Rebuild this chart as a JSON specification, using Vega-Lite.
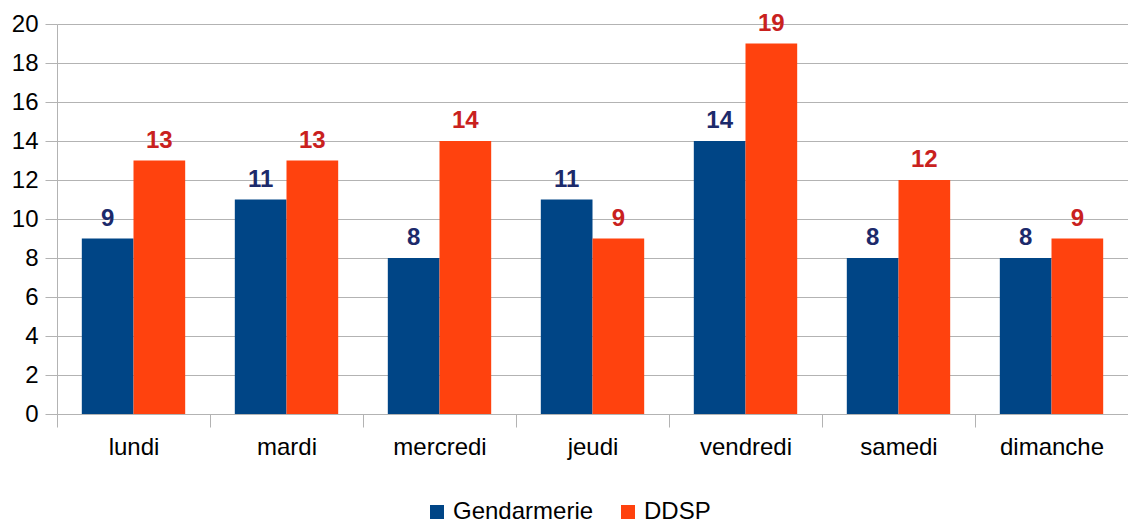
{
  "$schema": "https://vega.github.io/schema/vega-lite/v6.json",
  "width": 1071,
  "height": 390,
  "autosize": "none",
  "padding": {"left": 57, "top": 24, "right": 0, "bottom": 114},
  "background": "white",
  "config": {
    "font": "Liberation Sans",
    "view": {"stroke": null}
  },
  "data": {
    "values": [
      {"jour": "lundi", "series": "Gendarmerie", "value": 9},
      {"jour": "lundi", "series": "DDSP", "value": 13},
      {"jour": "mardi", "series": "Gendarmerie", "value": 11},
      {"jour": "mardi", "series": "DDSP", "value": 13},
      {"jour": "mercredi", "series": "Gendarmerie", "value": 8},
      {"jour": "mercredi", "series": "DDSP", "value": 14},
      {"jour": "jeudi", "series": "Gendarmerie", "value": 11},
      {"jour": "jeudi", "series": "DDSP", "value": 9},
      {"jour": "vendredi", "series": "Gendarmerie", "value": 14},
      {"jour": "vendredi", "series": "DDSP", "value": 19},
      {"jour": "samedi", "series": "Gendarmerie", "value": 8},
      {"jour": "samedi", "series": "DDSP", "value": 12},
      {"jour": "dimanche", "series": "Gendarmerie", "value": 8},
      {"jour": "dimanche", "series": "DDSP", "value": 9}
    ]
  },
  "encoding": {
    "x": {
      "field": "jour",
      "type": "nominal",
      "sort": ["lundi", "mardi", "mercredi", "jeudi", "vendredi", "samedi", "dimanche"],
      "scale": {"paddingInner": 0, "paddingOuter": 0},
      "axis": {
        "title": null,
        "labelAngle": 0,
        "labelFontSize": 24,
        "labelColor": "#000000",
        "labelFont": "Liberation Sans",
        "tickBand": "extent",
        "tickSize": 13,
        "tickColor": "#b3b3b3",
        "domainColor": "#b3b3b3",
        "labelPadding": 8,
        "labelBaseline": "top"
      }
    },
    "xOffset": {
      "field": "series",
      "type": "nominal",
      "sort": ["Gendarmerie", "DDSP"],
      "scale": {"paddingInner": 0, "paddingOuter": 0.48}
    },
    "y": {
      "field": "value",
      "type": "quantitative",
      "scale": {"domain": [0, 20], "nice": false},
      "axis": {
        "title": null,
        "values": [0, 2, 4, 6, 8, 10, 12, 14, 16, 18, 20],
        "labelFontSize": 24,
        "labelColor": "#000000",
        "labelFont": "Liberation Sans",
        "grid": true,
        "gridColor": "#b3b3b3",
        "tickColor": "#b3b3b3",
        "tickSize": 12,
        "domainColor": "#b3b3b3",
        "labelPadding": 7
      }
    }
  },
  "layer": [
    {
      "mark": {"type": "bar"},
      "encoding": {
        "color": {
          "field": "series",
          "type": "nominal",
          "sort": ["Gendarmerie", "DDSP"],
          "scale": {"domain": ["Gendarmerie", "DDSP"], "range": ["#004586", "#ff420e"]},
          "legend": {
            "title": null,
            "orient": "none",
            "direction": "horizontal",
            "legendX": 368,
            "legendY": 476,
            "padding": 0,
            "symbolType": "square",
            "symbolSize": 196,
            "symbolStrokeWidth": 0,
            "labelFontSize": 24,
            "labelColor": "#000000",
            "labelFont": "Liberation Sans",
            "labelOffset": 4,
            "columnPadding": 22
          }
        }
      }
    },
    {
      "mark": {"type": "text", "fontSize": 24, "fontWeight": "bold", "baseline": "alphabetic", "dy": -13},
      "encoding": {
        "text": {"field": "value", "type": "quantitative"},
        "color": {
          "condition": {"test": "datum.series === 'Gendarmerie'", "value": "#1c2a6b"},
          "value": "#c9211e"
        }
      }
    }
  ]
}
